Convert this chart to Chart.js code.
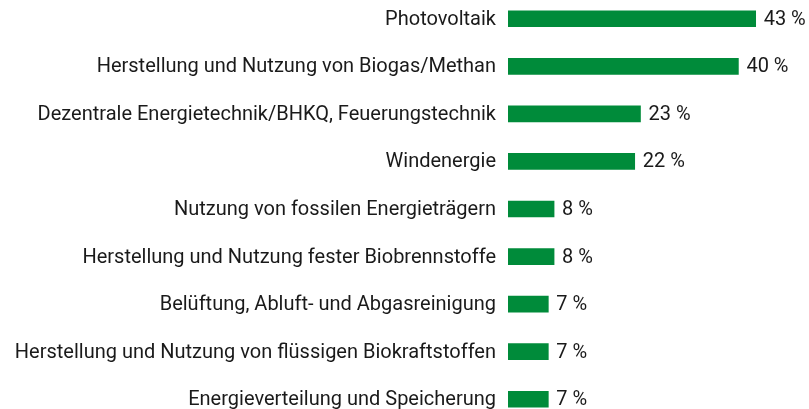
<!DOCTYPE html>
<html>
<head>
<meta charset="utf-8">
<script src="https://cdn.jsdelivr.net/npm/chart.js@4/dist/chart.umd.min.js"></script>
<style>
  html, body { margin: 0; padding: 0; background: #ffffff; overflow: hidden; }
  #wrap { position: absolute; left: 0; top: -5px; width: 809px; height: 428px; }
</style>
</head>
<body>
<div id="wrap"><canvas id="c" width="809" height="428"></canvas></div>
<script>
const categories = [
  "Photovoltaik",
  "Herstellung und Nutzung von Biogas/Methan",
  "Dezentrale Energietechnik/BHKQ, Feuerungstechnik",
  "Windenergie",
  "Nutzung von fossilen Energieträgern",
  "Herstellung und Nutzung fester Biobrennstoffe",
  "Belüftung, Abluft- und Abgasreinigung",
  "Herstellung und Nutzung von flüssigen Biokraftstoffen",
  "Energieverteilung und Speicherung"
];
const values = [43, 40, 23, 22, 8, 8, 7, 7, 7];
const valueSuffix = " %";

const FONT = "Roboto, 'Noto Sans', sans-serif";

const valueLabels = {
  id: 'valueLabels',
  afterDatasetsDraw(chart) {
    const ctx = chart.ctx;
    const meta = chart.getDatasetMeta(0);
    ctx.save();
    ctx.font = "20px " + FONT;
    ctx.fillStyle = "#1a1a1a";
    ctx.textAlign = "left";
    ctx.textBaseline = "middle";
    meta.data.forEach((bar, i) => {
      ctx.fillText(values[i] + valueSuffix, bar.x + 8, bar.y + 1);
    });
    ctx.restore();
  }
};

new Chart(document.getElementById('c'), {
  type: 'bar',
  data: {
    labels: categories,
    datasets: [{
      data: values,
      backgroundColor: '#008b3a',
      borderWidth: 0,
      barThickness: 16
    }]
  },
  options: {
    indexAxis: 'y',
    responsive: false,
    animation: false,
    layout: { padding: { left: 0, right: 13, top: 0, bottom: 0 } },
    plugins: { legend: { display: false }, tooltip: { enabled: false } },
    scales: {
      x: {
        display: false,
        min: 0,
        max: 50
      },
      y: {
        grid: { display: false, drawTicks: false },
        border: { display: false },
        ticks: {
          padding: 12,
          labelOffset: 1,
          color: '#1a1a1a',
          font: { family: FONT, size: 20 }
        },
        afterFit(scale) {
          scale.width = 508;
          scale.paddingTop = 0;
          scale.paddingBottom = 0;
        }
      }
    }
  },
  plugins: [valueLabels]
});
</script>
</body>
</html>
